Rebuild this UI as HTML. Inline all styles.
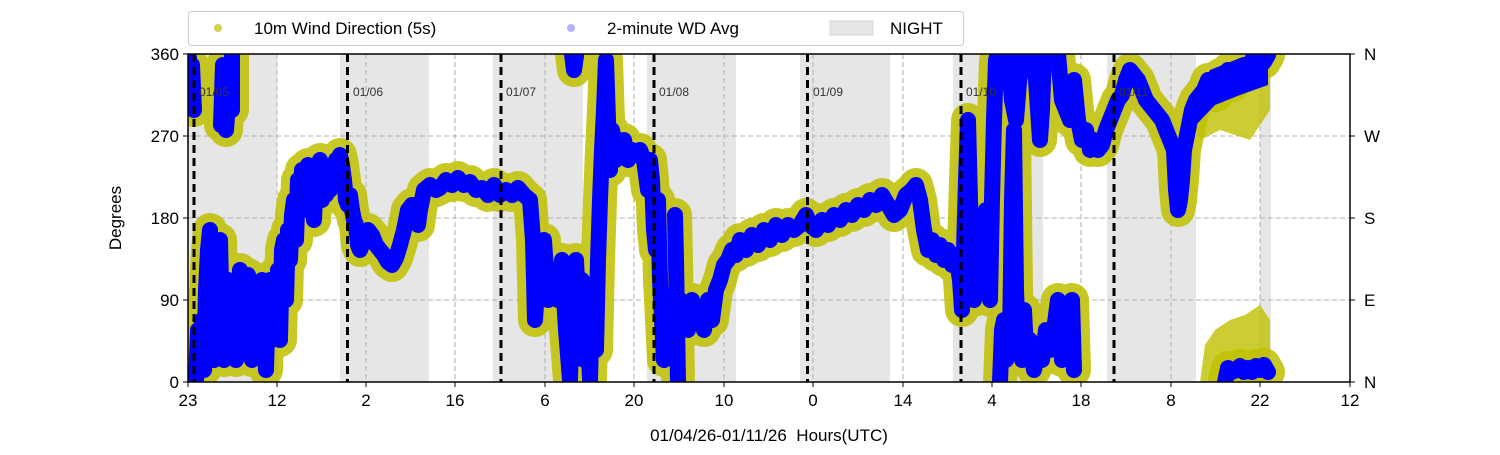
<!DOCTYPE html>
<html><head><meta charset="utf-8"><style>
body{margin:0;background:#fff;}
svg{font-family:"Liberation Sans","DejaVu Sans",sans-serif;}
</style></head><body>
<svg width="1500" height="450" xmlns="http://www.w3.org/2000/svg">
<defs><clipPath id="c"><rect x="188" y="54" width="1162" height="328"/></clipPath>
<g id="d">
<polyline points="189,58 190,95 192,65 194,110"/>
<polyline points="221,125 223,65 226,130 230,75 232,110 232,55"/>
<polyline points="196,382 198,330 200,360 202,320 204,370 206,290 208,250 210,230 212,300 214,360 216,330 218,250 220,240 222,330 224,360 226,310 228,280 230,340 232,330 234,300 236,360 238,340 240,270 242,300 244,350 246,310 248,275 250,320 252,360 254,300 256,290 258,340 260,310 262,280 264,320 266,370 268,300 270,280 272,340 274,280 276,310 278,270 280,340 282,250 284,240 286,300 288,230 290,260 292,215 294,200 296,240 298,180 300,200 302,170 304,210 306,190 308,165 310,200 312,170 314,220 316,175 318,190 320,160 322,200 324,180 326,195 328,170 330,190 332,175 334,165 336,160 338,170 340,155 342,165 344,180 346,200 348,205 350,195 352,210 354,220 356,225 358,245 360,250 364,240 368,230 372,235 376,245 380,250 384,255 388,262 392,265 396,258 400,245 404,230 408,210 412,205 416,215 418,225 420,210 424,190 430,185 436,190 440,188 446,180 452,185 458,178 464,185 470,182 476,190 482,188 488,195 494,185 500,195 506,190 512,195 518,188 524,195 530,200 533,240 535,320 537,290 540,250 544,240 548,300 552,290 554,270 558,300 562,260 566,330 570,380 572,300 574,360 576,260 578,300 580,340 582,280 584,360 586,300 588,330 590,380 592,300 594,330 596,350 598,260 600,200 602,150 604,110 606,60 608,120 610,170 612,130 614,140 616,160 618,150 620,145 624,140 628,160 632,150 636,155 640,150 644,160 646,175 648,190 650,160 652,180 654,230 656,250 658,200 660,280 662,320 664,360 666,330 668,300 670,340 672,310 676,320 680,300 684,310 688,330 692,300 696,320 700,310 704,330 708,300 712,320 716,290 720,280 724,265 728,260 732,250 736,255 740,240 746,250 752,235 758,245 764,230 770,240 776,225 782,235 788,225 794,230 800,225 806,215 810,225 816,230 822,220 828,225 834,215 840,220 846,210 852,215 858,205 864,210 870,200 876,205 882,195 888,205 894,215 900,210 906,195 912,190 916,185 920,200 924,230 928,250 932,240 936,255 940,245 944,260 948,250 952,265 956,255 960,280 962,310 964,250 966,180 968,120 970,200 972,260 974,300 976,270 980,250 984,230 986,210 988,260 990,300 992,200 994,120 996,60 998,54"/>
<polyline points="572,54 574,70 576,56"/>
<polyline points="675,215 676,260 678,382"/>
<polyline points="1000,382 1002,330 1004,320 1006,360 1010,340 1012,200 1014,130 1016,290 1018,340 1020,330 1022,360 1024,310 1026,350 1030,340 1034,370 1038,350 1042,360 1046,330 1050,350 1054,330 1058,300 1060,330 1062,360 1066,340 1070,320 1072,300 1074,370"/>
<polyline points="1008,54 1012,100 1016,120 1020,70 1022,54"/>
<polyline points="1032,54 1036,80 1040,140 1042,110 1044,54"/>
<polyline points="1058,54 1062,100 1066,110 1070,120 1074,80 1078,120 1082,140 1086,130 1090,150 1094,140 1098,150 1102,145 1106,130 1110,120 1114,110 1118,100 1122,95 1126,80 1130,70 1134,75 1138,80 1142,90 1146,100 1150,105 1154,110 1158,115 1162,120 1166,130 1170,140 1174,150 1176,190 1178,210 1180,200 1182,180 1184,150 1188,130 1192,110 1196,100 1200,95 1204,90 1208,80 1212,85 1216,95 1220,75 1224,80 1228,70 1232,85 1236,70 1240,75 1244,65 1248,70 1252,60 1256,65 1260,58 1264,62 1268,55"/>
<polyline points="1225,382 1228,368 1232,372 1236,370 1240,366 1244,372 1248,368 1252,372 1256,366 1260,370 1264,365 1268,372"/>
</g>
</defs>
<g fill="#e6e6e6">
<rect x="188" y="54" width="89" height="328"/>
<rect x="340" y="54" width="89" height="328"/>
<rect x="493" y="54" width="90" height="328"/>
<rect x="647" y="54" width="89" height="328"/>
<rect x="800" y="54" width="90" height="328"/>
<rect x="953" y="54" width="90" height="328"/>
<rect x="1107" y="54" width="89" height="328"/>
<rect x="1260" y="54" width="11" height="328"/>
</g>
<g stroke="#b0b0b0" stroke-width="1" stroke-dasharray="5,3">
<line x1="277" y1="54" x2="277" y2="382"/><line x1="366" y1="54" x2="366" y2="382"/><line x1="455" y1="54" x2="455" y2="382"/><line x1="545" y1="54" x2="545" y2="382"/><line x1="634" y1="54" x2="634" y2="382"/><line x1="724" y1="54" x2="724" y2="382"/><line x1="813" y1="54" x2="813" y2="382"/><line x1="903" y1="54" x2="903" y2="382"/><line x1="992" y1="54" x2="992" y2="382"/><line x1="1081" y1="54" x2="1081" y2="382"/><line x1="1171" y1="54" x2="1171" y2="382"/><line x1="1260" y1="54" x2="1260" y2="382"/>
<line x1="188" y1="136" x2="1350" y2="136"/><line x1="188" y1="218" x2="1350" y2="218"/><line x1="188" y1="300" x2="1350" y2="300"/>
</g>
<g clip-path="url(#c)">
<polygon points="1200,382 1205,345 1215,330 1230,320 1245,315 1260,305 1270,320 1270,382" fill="#bfbf00" opacity="0.8"/>
<polygon points="1190,110 1210,75 1240,70 1270,60 1270,110 1250,140 1220,130 1200,140" fill="#bfbf00" opacity="0.8"/>
<use href="#d" fill="none" stroke="#bfbf00" stroke-width="34" stroke-linejoin="round" stroke-linecap="round" opacity="0.85"/>
<use href="#d" fill="none" stroke="#0000ff" stroke-width="16" stroke-linejoin="round" stroke-linecap="round"/>
<polygon points="1192,100 1210,70 1240,58 1268,54 1268,85 1240,95 1215,105 1196,125" fill="#0000ff"/>
</g>
<g stroke="#000" stroke-width="3" stroke-dasharray="8,5">
<line x1="194" y1="54" x2="194" y2="382"/><line x1="347.5" y1="54" x2="347.5" y2="382"/><line x1="501" y1="54" x2="501" y2="382"/><line x1="654" y1="54" x2="654" y2="382"/><line x1="807.5" y1="54" x2="807.5" y2="382"/><line x1="961" y1="54" x2="961" y2="382"/><line x1="1114" y1="54" x2="1114" y2="382"/>
</g>
<g font-size="12" fill="#333">
<text x="199" y="96">01/05</text><text x="353" y="96">01/06</text><text x="506" y="96">01/07</text><text x="659" y="96">01/08</text><text x="813" y="96">01/09</text><text x="966" y="96">01/10</text><text x="1119" y="96">01/11</text>
</g>
<rect x="188" y="54" width="1162" height="328" fill="none" stroke="#000" stroke-width="1.5"/>
<g stroke="#000" stroke-width="1">
<line x1="183" y1="54" x2="188" y2="54"/><line x1="183" y1="136" x2="188" y2="136"/><line x1="183" y1="218" x2="188" y2="218"/><line x1="183" y1="300" x2="188" y2="300"/><line x1="183" y1="382" x2="188" y2="382"/>
<line x1="1350" y1="54" x2="1355" y2="54"/><line x1="1350" y1="136" x2="1355" y2="136"/><line x1="1350" y1="218" x2="1355" y2="218"/><line x1="1350" y1="300" x2="1355" y2="300"/><line x1="1350" y1="382" x2="1355" y2="382"/>
<line x1="188" y1="382" x2="188" y2="387"/><line x1="277" y1="382" x2="277" y2="387"/><line x1="366" y1="382" x2="366" y2="387"/><line x1="455" y1="382" x2="455" y2="387"/><line x1="545" y1="382" x2="545" y2="387"/><line x1="634" y1="382" x2="634" y2="387"/><line x1="724" y1="382" x2="724" y2="387"/><line x1="813" y1="382" x2="813" y2="387"/><line x1="903" y1="382" x2="903" y2="387"/><line x1="992" y1="382" x2="992" y2="387"/><line x1="1081" y1="382" x2="1081" y2="387"/><line x1="1171" y1="382" x2="1171" y2="387"/><line x1="1260" y1="382" x2="1260" y2="387"/><line x1="1350" y1="382" x2="1350" y2="387"/>
</g>
<g font-size="17" fill="#000">
<g text-anchor="end"><text x="179" y="60">360</text><text x="179" y="142">270</text><text x="179" y="224">180</text><text x="179" y="306">90</text><text x="179" y="388">0</text></g>
<text x="1364" y="60">N</text><text x="1364" y="142">W</text><text x="1364" y="224">S</text><text x="1364" y="306">E</text><text x="1364" y="388">N</text>
<g text-anchor="middle"><text x="188" y="406">23</text><text x="277" y="406">12</text><text x="366" y="406">2</text><text x="455" y="406">16</text><text x="545" y="406">6</text><text x="634" y="406">20</text><text x="724" y="406">10</text><text x="813" y="406">0</text><text x="903" y="406">14</text><text x="992" y="406">4</text><text x="1081" y="406">18</text><text x="1171" y="406">8</text><text x="1260" y="406">22</text><text x="1350" y="406">12</text>
<text x="769" y="441" xml:space="preserve">01/04/26-01/11/26  Hours(UTC)</text>
<text transform="translate(121,218) rotate(-90)">Degrees</text></g>
</g>
<rect x="188.5" y="11.5" width="775" height="34" rx="3" fill="#fff" stroke="#ccc"/>
<circle cx="218" cy="28" r="4" fill="#bfbf00" opacity="0.7"/>
<text x="254" y="34" font-size="17">10m Wind Direction (5s)</text>
<circle cx="571" cy="28" r="4" fill="#0000ff" opacity="0.3"/>
<text x="607" y="34" font-size="17">2-minute WD Avg</text>
<rect x="830" y="21" width="43" height="14" fill="#e6e6e6" stroke="#d8d8d8"/>
<text x="890" y="34" font-size="17">NIGHT</text>
</svg>
</body></html>
